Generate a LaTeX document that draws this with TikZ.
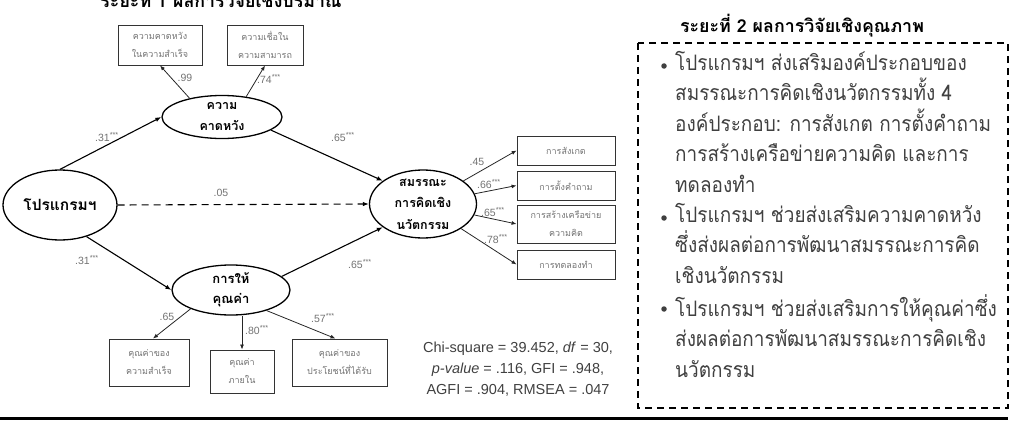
\documentclass[tikz,border=0pt]{standalone}
\usepackage{fontspec}
\setmainfont{Liberation Sans}
\newfontfamily\thai[Script=Thai]{Loma}
\newfontfamily\thainarrow[Script=Thai, FakeStretch=0.89]{Loma}
\usetikzlibrary{arrows.meta, positioning, shapes.geometric}
\definecolor{txtgray}{gray}{0.25}
\definecolor{lblgray}{gray}{0.45}
\tikzset{
    latent/.style={ellipse, draw=black, line width=1.3pt, fill=white, inner sep=0pt},
    lattext/.style={align=center, inner sep=0pt, font=\thai\bfseries\fontsize{12.5}{21}\selectfont},
    indicator/.style={rectangle, draw=black!80, line width=0.9pt, inner sep=0pt, align=center, text=lblgray, font=\thai\fontsize{9}{18}\selectfont},
    pathline/.style={line width=1.1pt, -{Latex[length=6pt,width=4.5pt]}},
    loading/.style={line width=0.8pt, draw=black!85, -{Latex[length=5pt,width=4pt]}},
    coef/.style={text=lblgray, inner sep=0pt, font=\fontsize{10.5}{11}\selectfont},
    title/.style={inner sep=0pt, font=\thai\bfseries\fontsize{17.8}{20}\selectfont},
    item/.style={align=left, inner sep=0pt, text=txtgray, font=\thainarrow\fontsize{21.3}{30.5}\selectfont},
    dot/.style={circle, fill=txtgray, inner sep=0pt, minimum size=5.5pt}
}

\begin{document}
\begin{tikzpicture}[x=1pt, y=-1pt]
    \useasboundingbox (0,0) rectangle (1022,428);

    % Titles
    \node[title, anchor=base] (ttl1) at (221,8) {ระยะที่ 1 ผลการวิจัยเชิงปริมาณ};
    \node[title, anchor=base] (ttl2) at (802,33) {ระยะที่ 2 ผลการวิจัยเชิงคุณภาพ};

    % Latent variables
    \node[latent, minimum width=114, minimum height=70, label={[lattext, font=\thai\bfseries\fontsize{15.5}{20}\selectfont]center:โปรแกรมฯ}] (prog) at (60,205) {};
    \node[latent, minimum width=120, minimum height=43, label={[lattext]center:{ความ\\คาดหวัง}}] (expect) at (222,117) {};
    \node[latent, minimum width=118, minimum height=50, label={[lattext, font=\thai\bfseries\fontsize{13}{20}\selectfont]center:{การให้\\คุณค่า}}] (value) at (231,290) {};
    \node[latent, minimum width=107, minimum height=68, label={[lattext, font=\thai\bfseries\fontsize{12.5}{21.5}\selectfont]center:{สมรรณะ\\การคิดเชิง\\นวัตกรรม}}] (cen) at (423,204) {};

    % Indicators
    \node[indicator, minimum width=84, minimum height=40] (ind1) at (160,45) {ความคาดหวัง\\ในความสำเร็จ};
    \node[indicator, minimum width=76, minimum height=40] (ind2) at (265,45) {ความเชื่อใน\\ความสามารถ};
    \node[indicator, minimum width=98, minimum height=29] (obs) at (566,150.5) {การสังเกต};
    \node[indicator, minimum width=98, minimum height=29] (ask) at (566,185.5) {การตั้งคำถาม};
    \node[indicator, minimum width=98, minimum height=38] (net) at (566,224) {การสร้างเครือข่าย\\ความคิด};
    \node[indicator, minimum width=98, minimum height=29] (exp) at (566,264.5) {การทดลองทำ};
    \node[indicator, minimum width=80, minimum height=47] (val1) at (149,362.5) {คุณค่าของ\\ความสำเร็จ};
    \node[indicator, minimum width=64, minimum height=43] (val2) at (242,371.5) {คุณค่า\\ภายใน};
    \node[indicator, minimum width=95, minimum height=47] (val3) at (339.5,362.5) {คุณค่าของ\\ประโยชน์ที่ได้รับ};

    % Structural paths
    \draw[pathline] (prog.north) -- (expect.west);
    \draw[pathline] (prog.-50) -- (value.west);
    \draw[pathline, dash pattern=on 7pt off 5pt] (prog.east) -- (cen.west);
    \draw[pathline] (expect.-15) -- (cen.150);
    \draw[pathline] (value.15) -- (cen.-150);

    % Loadings
    \draw[loading] (expect.150) -- (ind1.south);
    \draw[loading] (expect.40) -- (ind2.south);
    \draw[loading] (cen) -- (obs.west);
    \draw[loading] (cen) -- (ask.west);
    \draw[loading] (cen) -- (net.west);
    \draw[loading] (cen) -- (exp.west);
    \draw[loading] (value.-155) -- ([xshift=4pt]val1.north);
    \draw[loading] (val2.north |- value.south) -- (val2.north);
    \draw[loading] (value.-30) -- ([xshift=-4pt]val3.north);

    % Coefficients
    \node[coef] (c1) at (107,137) {.31\textsuperscript{***}};
    \node[coef] (c2) at (87,260) {.31\textsuperscript{***}};
    \node[coef] (c3) at (221,193) {.05};
    \node[coef] (c4) at (343,137) {.65\textsuperscript{***}};
    \node[coef] (c5) at (360,264) {.65\textsuperscript{***}};
    \node[coef] (c6) at (185,78) {.99};
    \node[coef] (c7) at (269,79) {.74\textsuperscript{***}};
    \node[coef] (c8) at (477,162) {.45};
    \node[coef] (c9) at (489,184) {.66\textsuperscript{***}};
    \node[coef] (c10) at (493,212) {.65\textsuperscript{***}};
    \node[coef] (c11) at (496,239) {.78\textsuperscript{***}};
    \node[coef] (c12) at (167,317) {.65};
    \node[coef] (c13) at (257,330) {.80\textsuperscript{***}};
    \node[coef] (c14) at (323,318) {.57\textsuperscript{***}};

    % Fit indices
    \node[align=center, inner sep=0pt, text=txtgray, font=\fontsize{14.5}{21}\selectfont] (fit) at (518,369)
        {Chi-square = 39.452, \textit{df} = 30,\\\textit{p-value} = .116, GFI = .948,\\AGFI = .904, RMSEA = .047};

    % Qualitative results
    \draw[line width=1.3pt, dash pattern=on 7pt off 5pt] (638,43) rectangle (1008,408);
    \node[dot] (b1) at (664,66) {};
    \node[dot] (b2) at (664,218) {};
    \node[dot] (b3) at (664,309) {};
    \node[item, anchor=north west] (t1) at (675,51) {โปรแกรมฯ ส่งเสริมองค์ประกอบของ\\สมรรณะการคิดเชิงนวัตกรรมทั้ง 4\\องค์ประกอบ: การสังเกต การตั้งคำถาม\\การสร้างเครือข่ายความคิด และการ\\ทดลองทำ};
    \node[item, anchor=north west] (t2) at (675,203) {โปรแกรมฯ ช่วยส่งเสริมความคาดหวัง\\ซึ่งส่งผลต่อการพัฒนาสมรรณะการคิด\\เชิงนวัตกรรม};
    \node[item, anchor=north west] (t3) at (675,294) {โปรแกรมฯ ช่วยส่งเสริมการให้คุณค่าซึ่ง\\ส่งผลต่อการพัฒนาสมรรณะการคิดเชิง\\นวัตกรรม};

    % Rule
    \draw[line width=3pt] (0,418) -- (1008,418);
\end{tikzpicture}
\end{document}
